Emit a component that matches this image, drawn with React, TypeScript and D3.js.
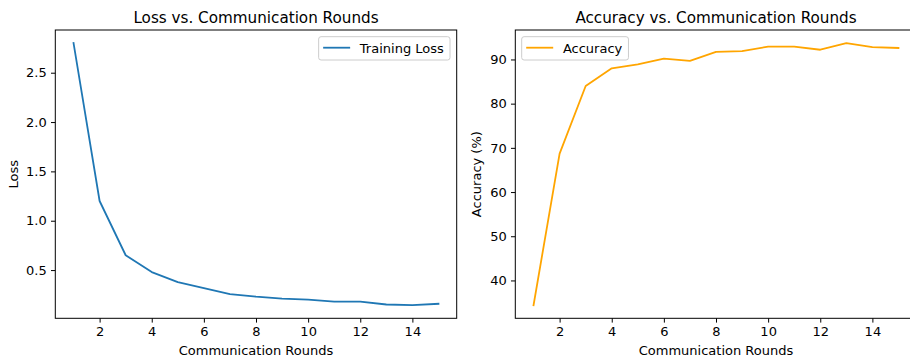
import React from "react";
import * as d3 from "d3";

const rounds = [1, 2, 3, 4, 5, 6, 7, 8, 9, 10, 11, 12, 13, 14, 15];
const lossValues = [2.8, 1.2, 0.65, 0.48, 0.378, 0.317, 0.256, 0.23, 0.21, 0.2, 0.18, 0.18, 0.151, 0.144, 0.158];
const accuracyValues = [34.4, 68.7, 84.0, 88.0, 88.9, 90.2, 89.7, 91.7, 91.9, 92.9, 92.9, 92.2, 93.7, 92.8, 92.6];
const roundTicks = [2, 4, 6, 8, 10, 12, 14];
const lossTicks = [0.5, 1.0, 1.5, 2.0, 2.5];
const accuracyTicks = [40, 50, 60, 70, 80, 90];

const FONT = "DejaVu Sans, sans-serif";
const TOP = 30;
const BOTTOM = 318.3;
const AXW = 401.4;

const App = () => {
  const svgRef = React.useRef<SVGSVGElement>(null);

  React.useEffect(() => {
    const svg = d3.select(svgRef.current);
    svg.selectAll("*").remove();

    const panels = [
      {
        left: 55.3,
        values: lossValues,
        ticks: lossTicks,
        fmt: d3.format(".1f"),
        color: "#1f77b4",
        title: "Loss vs. Communication Rounds",
        ylabel: "Loss",
        ylabelX: 18,
        legend: "Training Loss",
        legendSide: "right",
      },
      {
        left: 515.3,
        values: accuracyValues,
        ticks: accuracyTicks,
        fmt: d3.format("d"),
        color: "#ffa500",
        title: "Accuracy vs. Communication Rounds",
        ylabel: "Accuracy (%)",
        ylabelX: 481,
        legend: "Accuracy",
        legendSide: "left",
      },
    ];

    panels.forEach((p) => {
      const x0 = p.left;
      const x1 = p.left + AXW;
      const x = d3.scaleLinear().domain([0.3, 15.7]).range([x0, x1]);
      const ext = d3.extent(p.values) as [number, number];
      const m = (ext[1] - ext[0]) * 0.05;
      const y = d3.scaleLinear().domain([ext[0] - m, ext[1] + m]).range([BOTTOM, TOP]);

      const g = svg.append("g");

      // line
      const line = d3
        .line<number>()
        .x((_, i) => x(rounds[i]))
        .y((d) => y(d));
      g.append("path")
        .datum(p.values)
        .attr("d", line)
        .attr("fill", "none")
        .attr("stroke", p.color)
        .attr("stroke-width", 1.8)
        .attr("stroke-linejoin", "round")
        .attr("stroke-linecap", "square");

      // x axis
      const xa = g
        .append("g")
        .attr("transform", `translate(0,${BOTTOM})`)
        .call(d3.axisBottom(x).tickValues(roundTicks).tickSize(4.3).tickPadding(4.3).tickFormat(d3.format("d")));
      xa.select(".domain").remove();
      xa.selectAll("text").attr("font-size", 13).attr("font-family", FONT).attr("fill", "#000");
      xa.selectAll("line").attr("stroke", "#000").attr("stroke-width", 1);

      // y axis
      const ya = g
        .append("g")
        .attr("transform", `translate(${x0},0)`)
        .call(d3.axisLeft(y).tickValues(p.ticks).tickSize(4.3).tickPadding(4.3).tickFormat(p.fmt as any));
      ya.select(".domain").remove();
      ya.selectAll("text").attr("font-size", 13).attr("font-family", FONT).attr("fill", "#000");
      ya.selectAll("line").attr("stroke", "#000").attr("stroke-width", 1);

      // frame
      g.append("rect")
        .attr("x", x0)
        .attr("y", TOP)
        .attr("width", AXW)
        .attr("height", BOTTOM - TOP)
        .attr("fill", "none")
        .attr("stroke", "#000")
        .attr("stroke-width", 1);

      // title
      g.append("text")
        .attr("x", (x0 + x1) / 2)
        .attr("y", 22.8)
        .attr("text-anchor", "middle")
        .attr("font-family", FONT)
        .attr("font-size", 15.2)
        .text(p.title);

      // x label
      g.append("text")
        .attr("x", (x0 + x1) / 2)
        .attr("y", 355.3)
        .attr("text-anchor", "middle")
        .attr("font-family", FONT)
        .attr("font-size", 13)
        .text("Communication Rounds");

      // y label
      g.append("text")
        .attr("transform", `translate(${p.ylabelX},${(TOP + BOTTOM) / 2}) rotate(-90)`)
        .attr("text-anchor", "middle")
        .attr("font-family", FONT)
        .attr("font-size", 13)
        .text(p.ylabel);

      // legend
      const lg = g.append("g");
      const box = lg
        .append("rect")
        .attr("fill", "white")
        .attr("fill-opacity", 0.8)
        .attr("stroke", "#cccccc")
        .attr("stroke-width", 1)
        .attr("rx", 2.4);
      const handle = lg.append("line").attr("stroke", p.color).attr("stroke-width", 1.8);
      const label = lg
        .append("text")
        .attr("font-family", FONT)
        .attr("font-size", 13)
        .text(p.legend);
      const tw = (label.node() as SVGTextElement).getComputedTextLength();
      const bw = 41.2 + tw + 6.2;
      const bh = 23.3;
      const bx = p.legendSide === "right" ? x1 - 6.7 - bw : x0 + 6.4;
      const by = TOP + 6.7;
      box.attr("x", bx).attr("width", bw).attr("y", by).attr("height", bh);
      handle
        .attr("x1", bx + 4.5)
        .attr("x2", bx + 31.5)
        .attr("y1", by + 11)
        .attr("y2", by + 11);
      label.attr("x", bx + 41.2).attr("y", by + 16.2);
    });
  }, []);

  return (
    <svg
      ref={svgRef}
      width={910}
      height={356}
      style={{ position: "absolute", left: 0, top: 0, background: "white" }}
    />
  );
};

export default App;
